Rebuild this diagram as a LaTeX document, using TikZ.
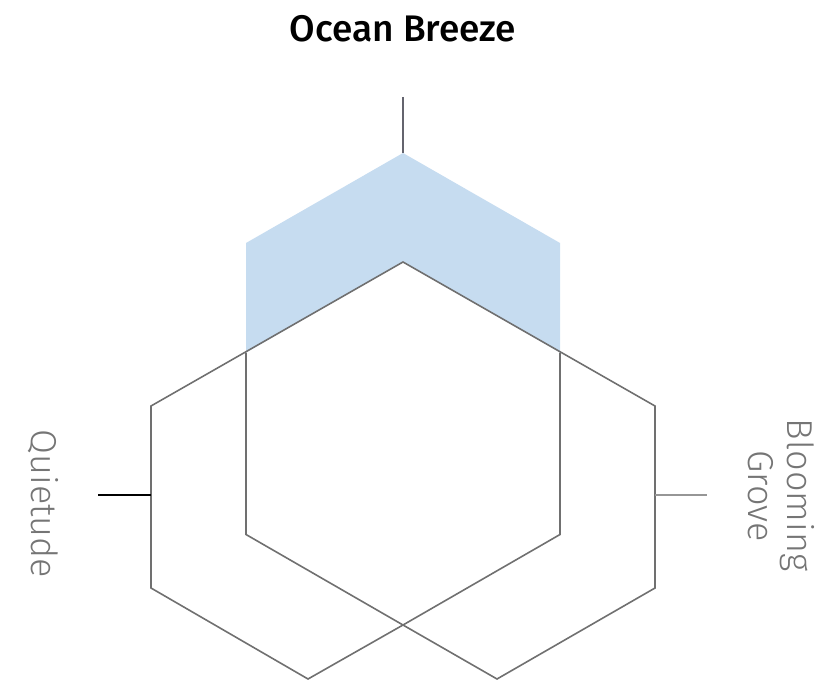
\documentclass[tikz,border=0pt]{standalone}
\usepackage{fontspec}
\setmainfont{Fira Sans}
\newfontfamily\titlefont{Fira Sans Medium}
\newfontfamily\labelfont{Fira Sans Light}
\definecolor{hexgray}{RGB}{112,112,112}
\definecolor{tickgray}{RGB}{150,150,150}
\definecolor{labelgray}{RGB}{117,117,117}
\definecolor{breezeblue}{RGB}{198,220,240}
\tikzset{
  hexline/.style={draw=hexgray,line width=1.6pt,line join=miter},
  axislabel/.style={text=labelgray,font=\labelfont\fontsize{36}{40}\selectfont,rotate=-90,anchor=base,inner sep=0pt}
}
\begin{document}
\begin{tikzpicture}[x=1pt,y=-1pt]

        \useasboundingbox (0,0) rectangle (826,692);

        % Corner points of the central hexagon
        \coordinate (top) at (403,262);
        \coordinate (ur) at (560,352.5);
        \coordinate (lr) at (560,534.5);
        \coordinate (bot) at (403,625);
        \coordinate (ll) at (246,534.5);
        \coordinate (ul) at (246,352.5);

        % Outer points of the side hexagons
        \coordinate (lul) at (151,406);
        \coordinate (lll) at (151,588);
        \coordinate (lbot) at (308,679);
        \coordinate (rur) at (655,406);
        \coordinate (rlr) at (655,588);
        \coordinate (rbot) at (497,679);

        % Peak of the upper hexagon
        \coordinate (peak) at (403,153);
        \coordinate (pul) at (246,243);
        \coordinate (pur) at (560,243);

        % Ends of the three ticks
        \coordinate (ttick) at (403,97);
        \coordinate (ltick) at (98,495);
        \coordinate (lmid) at (151,495);
        \coordinate (rtick) at (707,495);
        \coordinate (rmid) at (655,495);

        % Blue area above the central hexagon
        \fill[breezeblue] (pul) -- (peak) -- (pur) -- (ur) -- (top) -- (ul) -- cycle;

        % Outline of the three hexagons together
        \draw[hexline] (lul) -- (top) -- (rur) -- (rlr) -- (rbot) -- (bot) -- (lbot) -- (lll) -- cycle;

        % Inner part of the central hexagon
        \draw[hexline] (ul) -- (ll) -- (bot) -- (lr) -- (ur);

        % Ticks
        \draw[draw={rgb,255:red,100;green,100;blue,110},line width=1.6pt] (ttick) -- (peak);
        \draw[draw=black,line width=1.6pt] (ltick) -- (lmid);
        \draw[draw=tickgray,line width=1.6pt] (rmid) -- (rtick);

        % Labels
        \node[font=\titlefont\fontsize{37}{44}\selectfont,anchor=base,inner sep=0pt] (title) at (403,42) {Ocean Breeze};
        \node[axislabel] (quietude) at (31,504) {Quietude};
        \node[axislabel] (blooming) at (787,495) {Blooming};
        \node[axislabel] (grove) at (748,496) {Grove};

    \end{tikzpicture}
\end{document}
